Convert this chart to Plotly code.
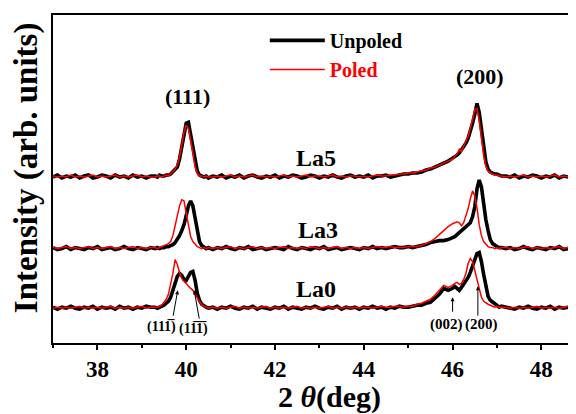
import plotly.graph_objects as go

# 2-theta sampling positions (deg)
two_theta = [
    37.0, 37.1, 37.2, 37.3, 37.4, 37.5, 37.6, 37.7, 37.8, 37.9, 38.0, 38.1, 38.2, 38.3, 38.4, 38.5, 38.6, 38.7, 38.8, 38.9, 39.0, 39.1, 39.2,
    39.3, 39.35, 39.4, 39.45, 39.5, 39.55, 39.6, 39.65, 39.7, 39.75, 39.8, 39.85, 39.9, 39.95, 40.0, 40.05, 40.1, 40.15, 40.2, 40.25, 40.3, 40.35, 40.4, 40.45, 40.5,
    40.6, 40.7, 40.8, 40.9,
    41.0, 41.1, 41.2, 41.3, 41.4, 41.5, 41.6, 41.7, 41.8, 41.9,
    42.0, 42.1, 42.2, 42.3, 42.4, 42.5, 42.6, 42.7, 42.8, 42.9,
    43.0, 43.1, 43.2, 43.3, 43.4, 43.5, 43.6, 43.7, 43.8, 43.9,
    44.0, 44.1, 44.2, 44.3, 44.4, 44.5, 44.6, 44.7, 44.8, 44.9,
    45.0, 45.1, 45.2, 45.3, 45.4, 45.5, 45.6, 45.7, 45.8, 45.9,
    46.0, 46.05, 46.1, 46.15, 46.2, 46.25, 46.3, 46.35, 46.4, 46.45, 46.5, 46.55, 46.6, 46.65, 46.7, 46.75, 46.8, 46.85, 46.9, 46.95, 47.0, 47.05, 47.1,
    47.2, 47.3, 47.4, 47.5, 47.6, 47.7, 47.8, 47.9, 48.0, 48.1, 48.2, 48.3, 48.4, 48.5, 48.6, 48.7, 48.8,
]

# Intensities (arb. units, vertically offset stacks)
la5_unpoled = [
    167, 169, 166, 168, 167, 169, 166, 168, 169, 166, 167, 169, 168, 166, 169, 167, 168, 166, 169, 167, 168, 166, 168,
    168, 167, 169, 168, 168, 169, 169, 170, 172, 174, 177, 185, 197, 211, 221, 222, 210, 198, 182, 173, 169, 168, 167, 168, 166,
    168, 167, 169, 166,
    168, 167, 169, 166, 168, 169, 167, 166, 168, 167,
    169, 166, 168, 167, 169, 168, 166, 167, 169, 168,
    166, 168, 167, 169, 167, 166, 168, 169, 167, 168,
    167, 169, 166, 168, 168, 169, 167, 168, 169, 170,
    170, 171, 171, 172, 174, 175, 177, 179, 181, 183,
    186, 187, 189, 191, 194, 197, 201, 206, 213, 221, 230, 241, 232, 214, 196, 182, 175, 172, 171, 170, 170, 169, 168,
    168, 167, 169, 166, 168, 167, 169, 168, 166, 168, 167, 169, 166, 168, 167, 168, 166,
]
la5_poled = [
    168, 167, 168, 167, 169, 167, 168, 167, 168, 169, 167, 168, 167, 168, 169, 167, 168, 167, 168, 169, 167, 168, 167,
    167, 168, 168, 167, 168, 169, 168, 170, 172, 175, 179, 187, 199, 212, 219, 216, 204, 190, 177, 171, 168, 168, 167, 168, 167,
    167, 168, 167, 168,
    169, 167, 168, 167, 168, 169, 167, 168, 167, 168,
    167, 168, 169, 167, 168, 167, 168, 169, 167, 168,
    168, 167, 168, 169, 167, 168, 167, 168, 168, 167,
    168, 167, 168, 169, 168, 168, 169, 169, 170, 170,
    171, 171, 172, 173, 174, 176, 177, 179, 181, 183,
    185, 188, 190, 195, 193, 198, 203, 208, 216, 225, 235, 236, 224, 206, 189, 178, 173, 171, 170, 169, 169, 168, 168,
    167, 168, 167, 168, 169, 167, 168, 167, 168, 167, 168, 169, 167, 168, 167, 168, 167,
]
la3_unpoled = [
    96, 94, 95, 97, 94, 96, 95, 94, 96, 95, 97, 94, 95, 96, 94, 95, 97, 95, 94, 96, 95, 94, 96,
    95, 96, 95, 96, 96, 97, 97, 98, 99, 101, 104, 108, 113, 119, 128, 138, 143, 138, 126, 114, 102, 98, 96, 95, 96,
    94, 96, 95, 97,
    95, 94, 96, 95, 97, 94, 95, 96, 94, 95,
    96, 95, 94, 97, 95, 94, 96, 95, 94, 96,
    95, 97, 94, 95, 96, 94, 95, 96, 95, 94,
    96, 95, 97, 95, 96, 95, 96, 97, 96, 96,
    97, 96, 97, 98, 99, 101, 102, 103, 103, 104,
    106, 107, 109, 111, 112, 114, 116, 118, 121, 127, 137, 155, 164, 157, 140, 124, 113, 104, 100, 98, 97, 96, 96,
    95, 96, 94, 95, 97, 95, 94, 96, 95, 94, 96, 95, 97, 94, 95, 96, 95,
]
la3_poled = [
    96, 95, 96, 97, 95, 96, 95, 96, 97, 95, 96, 95, 96, 97, 95, 96, 95, 96, 97, 95, 96, 95, 96,
    96, 95, 96, 97, 98, 99, 100, 102, 108, 118, 129, 138, 144, 143, 131, 117, 107, 102, 99, 97, 96, 95, 96, 95, 96,
    95, 96, 95, 96,
    97, 95, 96, 95, 96, 97, 95, 96, 95, 96,
    95, 96, 97, 95, 96, 95, 96, 95, 97, 96,
    95, 96, 95, 96, 97, 95, 96, 95, 96, 95,
    96, 95, 96, 97, 96, 96, 97, 96, 96, 96,
    97, 97, 97, 98, 100, 102, 105, 109, 113, 117,
    120, 121, 122, 121, 118, 121, 127, 135, 145, 153, 148, 136, 119, 108, 102, 99, 97, 96, 96, 95, 96, 95, 96,
    96, 95, 96, 95, 96, 97, 95, 96, 95, 96, 95, 96, 97, 95, 96, 95, 96,
]
la0_unpoled = [
    36, 34, 36, 35, 37, 35, 34, 36, 35, 37, 34, 36, 35, 36, 34, 37, 35, 36, 34, 36, 35, 37, 36,
    36, 35, 36, 37, 38, 40, 42, 46, 52, 60, 67, 70, 68, 64, 63, 67, 71, 72, 63, 50, 43, 39, 37, 36, 35,
    36, 34, 36, 35,
    37, 35, 34, 36, 35, 37, 34, 36, 35, 34,
    36, 35, 37, 34, 36, 35, 34, 36, 35, 37,
    35, 34, 36, 35, 37, 34, 36, 35, 36, 34,
    36, 35, 37, 35, 36, 34, 36, 35, 37, 36,
    36, 37, 38, 38, 40, 41, 45, 49, 55, 53,
    55, 57, 55, 53, 56, 59, 62, 66, 71, 78, 85, 90, 91, 82, 69, 57, 47, 43, 41, 39, 37, 36, 37,
    36, 35, 34, 36, 35, 37, 35, 34, 36, 35, 37, 34, 36, 35, 36, 34, 36,
]
la0_poled = [
    35, 36, 35, 36, 35, 36, 37, 35, 36, 35, 36, 35, 36, 37, 35, 36, 35, 36, 35, 36, 37, 35, 36,
    36, 36, 37, 38, 41, 44, 49, 58, 70, 84, 79, 71, 65, 62, 60, 57, 55, 53, 49, 45, 41, 38, 37, 36, 35,
    36, 35, 36, 35,
    36, 37, 35, 36, 35, 36, 35, 36, 37, 35,
    36, 35, 36, 35, 36, 37, 35, 36, 35, 36,
    35, 36, 37, 35, 36, 35, 36, 35, 36, 35,
    36, 36, 35, 36, 37, 36, 36, 37, 37, 36,
    37, 37, 39, 40, 42, 44, 48, 53, 58, 56,
    58, 60, 61, 59, 60, 64, 70, 80, 85, 82, 73, 62, 52, 46, 42, 40, 39, 38, 37, 36, 37, 36, 36,
    36, 35, 36, 35, 36, 35, 36, 37, 35, 36, 35, 36, 35, 36, 37, 35, 36,
]

samples = ["La5", "La3", "La0"]
unpoled = [la5_unpoled, la3_unpoled, la0_unpoled]
poled = [la5_poled, la3_poled, la0_poled]
sample_label_pos = [(42.92, 186), (42.97, 114), (42.92, 54)]
peak_labels = [("(111)", 40.04, 248), ("(200)", 46.62, 268)]
la0_labels = [
    # text, text x, text y, arrow tail x, tail y, head x, head y, font size
    ("(111\u0305)", 39.44, 16, 39.70, 26, 39.81, 53, 14),
    ("(11\u03051\u0305)", 40.17, 14, 40.30, 23, 40.18, 53, 14),
    ("(002)", 45.86, 19, 46.0, 30, 46.0, 46, 15),
    ("(200)", 46.65, 19, 46.57, 26, 46.57, 57, 15),
]

FONT = "Liberation Serif"
fig = go.Figure()
for i, (name, ys) in enumerate(zip(samples, unpoled)):
    fig.add_trace(go.Scatter(x=two_theta, y=ys, mode="lines", name="Unpoled",
                             legendgroup="u", showlegend=(i == 0),
                             line=dict(color="black", width=3.6)))
for i, (name, ys) in enumerate(zip(samples, poled)):
    fig.add_trace(go.Scatter(x=two_theta, y=ys, mode="lines",
                             name="<span style='color:#ff0000'>Poled</span>",
                             legendgroup="p", showlegend=(i == 0),
                             line=dict(color="#ff0000", width=1.5)))

ann = []
for s, (x, y) in zip(samples, sample_label_pos):
    ann.append(dict(x=x, y=y, text=s, showarrow=False,
                    font=dict(family=FONT, size=24, color="black", weight="bold")))
for t, x, y in peak_labels:
    ann.append(dict(x=x, y=y, text=t, showarrow=False,
                    font=dict(family=FONT, size=22, color="black", weight="bold")))
for t, tx, ty, x0, y0, x1, y1, fs in la0_labels:
    ann.append(dict(x=tx, y=ty, text=t, showarrow=False,
                    font=dict(family=FONT, size=fs, color="black", weight="bold")))
    ann.append(dict(x=x1, y=y1, ax=x0, ay=y0, axref="x", ayref="y", text="",
                    showarrow=True, arrowhead=2, arrowsize=0.8, arrowwidth=1,
                    arrowcolor="black"))
ann.append(dict(xref="paper", yref="paper", x=-0.0516, y=0.533, text="Intensity (arb. units)",
                textangle=-90, showarrow=False, xanchor="center", yanchor="middle",
                font=dict(family=FONT, size=33, color="black", weight="bold")))
ann.append(dict(xref="paper", yref="paper", x=0.528, y=-0.166, text="2 <i>\u03b8</i>(deg)",
                showarrow=False, xanchor="center", yanchor="middle",
                font=dict(family=FONT, size=30, color="black", weight="bold")))

# the page body adds an 8px offset; margins compensate so the plot area
# spans x 53..576 and y 13..343 in the screenshot
fig.update_layout(
    width=576, height=414,
    margin=dict(l=45, r=8, t=5, b=79),
    paper_bgcolor="white", plot_bgcolor="white",
    showlegend=True,
    legend=dict(x=0.405, y=0.982, xanchor="left", yanchor="top",
                bgcolor="rgba(0,0,0,0)", itemwidth=55, tracegroupgap=0,
                font=dict(family=FONT, size=20, color="black", weight="bold")),
    annotations=ann,
    xaxis=dict(range=[37, 48.78], dtick=2, tick0=0, ticks="outside", ticklen=5,
               tickwidth=1.5, tickcolor="black", showline=True, linecolor="black",
               linewidth=1.5, mirror=True, showgrid=False, zeroline=False,
               tickfont=dict(family=FONT, size=23, color="black", weight="bold"),
               minor=dict(dtick=1, tick0=0, ticks="outside", ticklen=3, tickcolor="black",
                          tickwidth=1.5, showgrid=False)),
    yaxis=dict(range=[0, 330], showticklabels=False, ticks="", showline=True,
               linecolor="black", linewidth=1.5, showgrid=False, zeroline=False),
)
fig.write_html("out.html")
